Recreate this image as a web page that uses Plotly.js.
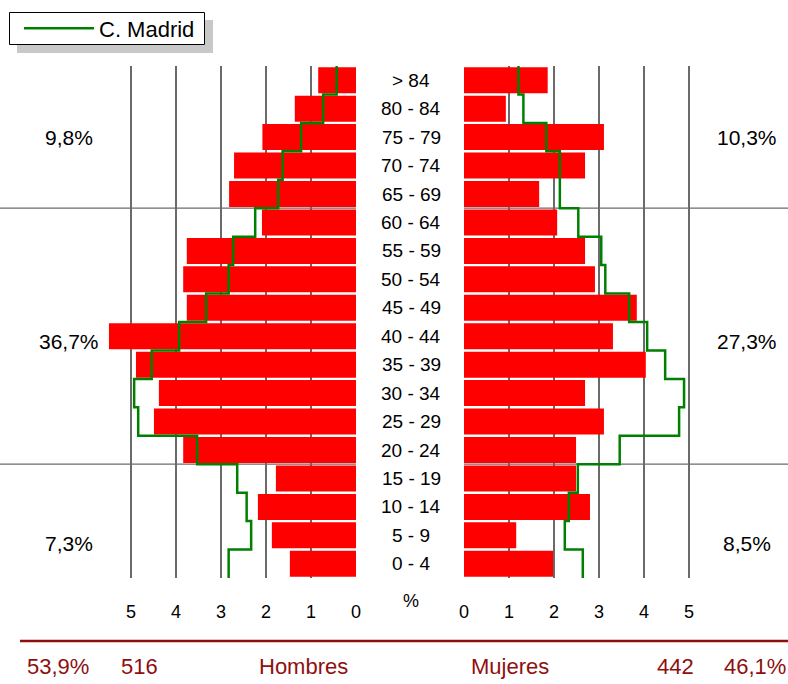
<!DOCTYPE html>
<html>
<head>
<meta charset="utf-8">
<script src="https://cdn.plot.ly/plotly-3.0.1.min.js"></script>
<style>html,body{margin:0;padding:0;background:#fff;}#chart{width:788px;height:684px;}</style>
</head>
<body>
<div id="chart"></div>
<script>
// ---- data ----
const ages = ['> 84','80 - 84','75 - 79','70 - 74','65 - 69','60 - 64','55 - 59','50 - 54','45 - 49','40 - 44','35 - 39','30 - 34','25 - 29','20 - 24','15 - 19','10 - 14','5 - 9','0 - 4'];
const hombres = [0.84,1.36,2.08,2.71,2.82,2.09,3.76,3.84,3.76,5.49,4.89,4.38,4.49,3.84,1.78,2.18,1.87,1.47];
const mujeres = [1.86,0.93,3.11,2.69,1.67,2.07,2.69,2.91,3.84,3.31,4.04,2.69,3.11,2.49,2.49,2.80,1.16,1.98];
const madridH = [0.43,0.73,1.22,1.63,1.73,2.24,2.73,2.83,3.33,3.93,4.54,4.93,4.84,3.53,2.64,2.43,2.33,2.83];
const madridM = [1.21,1.32,1.83,2.13,2.13,2.54,3.05,3.14,3.67,4.07,4.47,4.89,4.78,3.46,2.53,2.33,2.24,2.64];
const groupH = ['9,8%','36,7%','7,3%'];
const groupM = ['10,3%','27,3%','8,5%'];
const totalPctH = '53,9%', totalH = '516', totalM = '442', totalPctM = '46,1%';
const tickVals = [0,1,2,3,4,5];
const tickText = ['0','1','2','3','4','5'];

// ---- build ----
const idx = ages.map((_, i) => i);
function stepXY(vals){
  const xs = [], ys = [];
  vals.forEach((v, i) => { xs.push(v, v); ys.push(i - 0.5, i + 0.5); });
  return {xs, ys};
}
const sH = stepXY(madridH), sM = stepXY(madridM);
const FONT = 'Arial, "Liberation Sans", sans-serif';
const DARKRED = '#8f0f0f';
const GREEN = '#008000';
const PH = 512, PB = 578; // plot height / bottom in px, for paper conversions
const py = p => (PB - p) / PH;
const px = p => p / 788;

const traces = [
  {type:'bar', orientation:'h', x:hombres, y:idx, xaxis:'x', yaxis:'y', width:0.915,
   marker:{color:'#ff0000', line:{width:0}}, showlegend:false, hoverinfo:'x'},
  {type:'bar', orientation:'h', x:mujeres, y:idx, xaxis:'x2', yaxis:'y2', width:0.915,
   marker:{color:'#ff0000', line:{width:0}}, showlegend:false, hoverinfo:'x'},
  {type:'scatter', mode:'lines', x:sH.xs, y:sH.ys, xaxis:'x', yaxis:'y', name:'C. Madrid',
   line:{color:GREEN, width:2.5}, showlegend:true},
  {type:'scatter', mode:'lines', x:sM.xs, y:sM.ys, xaxis:'x2', yaxis:'y2', name:'C. Madrid',
   line:{color:GREEN, width:2.5}, showlegend:false}
];

const axisX = {
  tickvals:tickVals, ticktext:tickText, showgrid:true, gridcolor:'#6a6a6a', gridwidth:1.3,
  zeroline:false, showline:false, ticks:'', ticklabelstandoff:21,
  tickfont:{family:FONT, size:18, color:'#000'}, fixedrange:true
};
const axisY = {range:[17.5,-0.5], showgrid:false, zeroline:false, showticklabels:false, ticks:'', showline:false, fixedrange:true};

const annotations = [];
ages.forEach((a, i) => annotations.push({xref:'paper', yref:'y', x:px(411), y:i, text:a, showarrow:false,
  xanchor:'center', yanchor:'middle', font:{family:FONT, size:19, color:'#000'}}));
const groupY = [2, 9.2, 16.3];
groupH.forEach((t, i) => annotations.push({xref:'paper', yref:'y', x:px(69), y:groupY[i], text:t, showarrow:false,
  xanchor:'center', yanchor:'middle', font:{family:FONT, size:21, color:'#000'}}));
groupM.forEach((t, i) => annotations.push({xref:'paper', yref:'y', x:px(747), y:groupY[i], text:t, showarrow:false,
  xanchor:'center', yanchor:'middle', font:{family:FONT, size:21, color:'#000'}}));
annotations.push({xref:'paper', yref:'paper', x:px(411), y:py(601), text:'%', showarrow:false,
  xanchor:'center', yanchor:'middle', font:{family:FONT, size:18, color:'#000'}});
const botY = py(666);
[[totalPctH,58],[totalH,139],['Hombres',303],['Mujeres',510],[totalM,675]].forEach(([t,x]) =>
  annotations.push({xref:'paper', yref:'paper', x:px(x), y:botY, text:t, showarrow:false,
    xanchor:'center', yanchor:'middle', font:{family:FONT, size:22, color:DARKRED}}));
annotations.push({xref:'paper', yref:'paper', x:1, y:botY, text:totalPctM, showarrow:false,
  xanchor:'right', yanchor:'middle', font:{family:FONT, size:22, color:DARKRED}});

const shapes = [
  // group separators
  {type:'line', xref:'x domain', yref:'y', x0:0, x1:1, y0:4.5, y1:4.5, line:{color:'#6a6a6a', width:1.3}, layer:'below'},
  {type:'line', xref:'x domain', yref:'y', x0:0, x1:1, y0:13.5, y1:13.5, line:{color:'#6a6a6a', width:1.3}, layer:'below'},
  {type:'line', xref:'x2 domain', yref:'y2', x0:0, x1:1, y0:4.5, y1:4.5, line:{color:'#6a6a6a', width:1.3}, layer:'below'},
  {type:'line', xref:'x2 domain', yref:'y2', x0:0, x1:1, y0:13.5, y1:13.5, line:{color:'#6a6a6a', width:1.3}, layer:'below'},
  // bottom dark red rule
  {type:'line', xref:'paper', yref:'paper', x0:px(20), x1:1, y0:py(641), y1:py(641), line:{color:DARKRED, width:2.5}},
  // legend shadow and frame
  {type:'rect', xref:'paper', yref:'paper', x0:px(17), x1:px(213), y0:py(53), y1:py(20),
   fillcolor:'#c8c8c8', line:{width:0}},
  {type:'rect', xref:'paper', yref:'paper', x0:px(9.5), x1:px(204.5), y0:py(44.5), y1:py(12.5),
   fillcolor:'#ffffff', line:{color:'#000', width:1}}
];

const layout = {
  width:788, height:684, margin:{l:0, r:0, t:66, b:106},
  paper_bgcolor:'#fff', plot_bgcolor:'rgba(0,0,0,0)',
  font:{family:FONT, color:'#000'},
  xaxis:Object.assign({}, axisX, {domain:[0, px(356)], range:[356/45, 0], anchor:'y'}),
  xaxis2:Object.assign({}, axisX, {domain:[px(464), 1], range:[0, 324/45], anchor:'y2'}),
  yaxis:Object.assign({}, axisY, {anchor:'x'}),
  yaxis2:Object.assign({}, axisY, {anchor:'x2'}),
  barmode:'overlay',
  showlegend:true,
  legend:{x:px(19), y:py(28.5), xanchor:'left', yanchor:'middle', bgcolor:'rgba(0,0,0,0)', borderwidth:0,
    font:{family:FONT, size:22, color:'#000'}, itemwidth:70},
  annotations, shapes
};

Plotly.newPlot('chart', traces, layout, {displayModeBar:false, staticPlot:true});
</script>
</body>
</html>
